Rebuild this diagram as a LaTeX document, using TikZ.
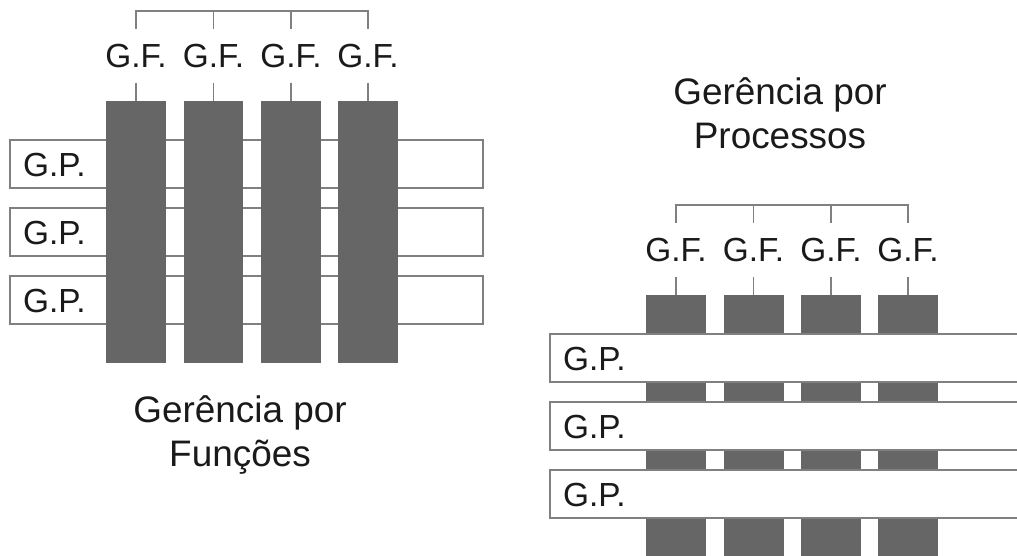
\documentclass[tikz,border=0pt]{standalone}
\usepackage{fontspec}
\setmainfont{Liberation Sans}
\usetikzlibrary{positioning}

\definecolor{bargray}{HTML}{666666}
\definecolor{linegray}{HTML}{808080}
\definecolor{textdark}{HTML}{1A1A1A}

\begin{document}
\begin{tikzpicture}[x=0.02cm, y=-0.02cm,
    bar/.style={rectangle, fill=bargray, inner sep=0, minimum width=1.2cm, minimum height=5.24cm},
    gp/.style={rectangle, draw=linegray, line width=0.9pt, fill=white, minimum width=9.46cm, minimum height=0.96cm,
        inner xsep=0.26cm, inner ysep=0, text width=8.94cm, text height=14pt, align=left,
        font=\fontsize{19}{22}\selectfont, text=textdark},
    gf/.style={inner sep=0, minimum height=1.06cm, font=\fontsize{19}{22}\selectfont, text=textdark},
    tick/.style={draw=linegray, line width=0.9pt},
    caption/.style={align=center, font=\fontsize{21}{25}\selectfont, text=textdark}]

    \useasboundingbox (0,0) rectangle (1017,555);
    \clip (0,0) rectangle (1017,555);

    % Gerencia por funcoes: process rows under the function columns
    \node[gp] (fgp1) at (246.5,164) {G.P.};
    \node[gp] (fgp2) at (246.5,232) {G.P.};
    \node[gp] (fgp3) at (246.5,300) {G.P.};

    \node[bar] (fb1) at (136,232) {};
    \node[bar] (fb2) at (213.5,232) {};
    \node[bar] (fb3) at (291,232) {};
    \node[bar] (fb4) at (368,232) {};

    \node[gf, above=0.36cm of fb1] (fgf1) {G.F.};
    \node[gf, above=0.36cm of fb2] (fgf2) {G.F.};
    \node[gf, above=0.36cm of fb3] (fgf3) {G.F.};
    \node[gf, above=0.36cm of fb4] (fgf4) {G.F.};

    \draw[tick] (fgf1.south) -- (fb1.north);
    \draw[tick] (fgf2.south) -- (fb2.north);
    \draw[tick] (fgf3.south) -- (fb3.north);
    \draw[tick] (fgf4.south) -- (fb4.north);

    % bracket over the columns
    \draw[tick] (fgf1.north) -- ++(0,-18) -| (fgf4.north);
    \draw[tick] (fgf2.north) -- ++(0,-18);
    \draw[tick] (fgf3.north) -- ++(0,-18);

    \node[caption] (fcap) at (240,435) {Gerência por\\Funções};

    % Gerencia por processos: columns first, rows on top
    \node[bar] (pb1) at (676,426) {};
    \node[bar] (pb2) at (753.5,426) {};
    \node[bar] (pb3) at (831,426) {};
    \node[bar] (pb4) at (908,426) {};

    \node[gp] (pgp1) at (786.5,358) {G.P.};
    \node[gp] (pgp2) at (786.5,426) {G.P.};
    \node[gp] (pgp3) at (786.5,494) {G.P.};

    \node[gf, above=0.36cm of pb1] (pgf1) {G.F.};
    \node[gf, above=0.36cm of pb2] (pgf2) {G.F.};
    \node[gf, above=0.36cm of pb3] (pgf3) {G.F.};
    \node[gf, above=0.36cm of pb4] (pgf4) {G.F.};

    \draw[tick] (pgf1.south) -- (pb1.north);
    \draw[tick] (pgf2.south) -- (pb2.north);
    \draw[tick] (pgf3.south) -- (pb3.north);
    \draw[tick] (pgf4.south) -- (pb4.north);

    \draw[tick] (pgf1.north) -- ++(0,-18) -| (pgf4.north);
    \draw[tick] (pgf2.north) -- ++(0,-18);
    \draw[tick] (pgf3.north) -- ++(0,-18);

    \node[caption] (pcap) at (780,113) {Gerência por\\Processos};

\end{tikzpicture}
\end{document}
